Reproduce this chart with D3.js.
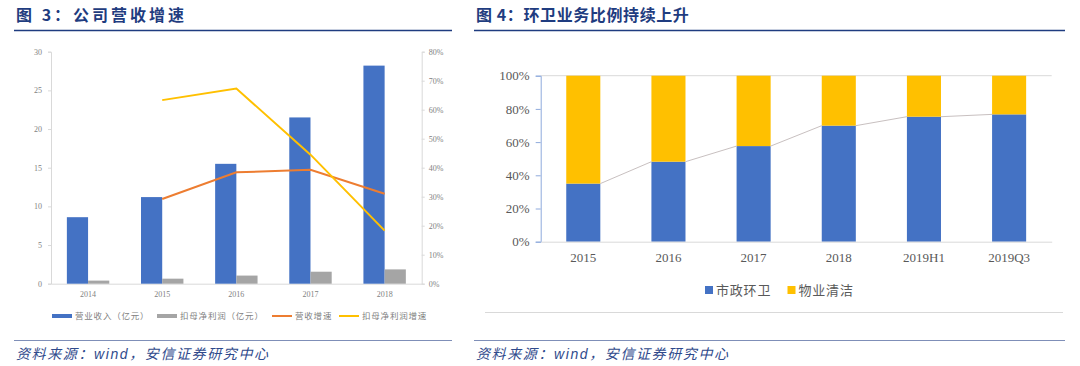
<!DOCTYPE html>
<html><head><meta charset="utf-8">
<script src="https://cdn.jsdelivr.net/npm/d3@7"></script>
<style>
html,body{margin:0;padding:0;background:#fff;}
svg{display:block;}
</style></head>
<body>
<svg id="c" width="1080" height="366"></svg>
<script>
// ---------- data ----------
const years = ["2014","2015","2016","2017","2018"];
const revenue = [8.6, 11.2, 15.5, 21.5, 28.2];          // 营业收入（亿元）
const netProfit = [0.4, 0.65, 1.05, 1.55, 1.85];        // 扣母净利润（亿元）
const revenueGrowth = [null, 29.2, 38.4, 39.3, 31.0];   // 营收增速 %
const profitGrowth = [null, 63.3, 67.3, 44.5, 18.3];    // 扣母净利润增速 %
const leftTicks = [0,5,10,15,20,25,30];
const rightTicks = [0,10,20,30,40,50,60,70,80];
const legend3 = ["营业收入（亿元）","扣母净利润（亿元）","营收增速","扣母净利润增速"];

const periods = ["2015","2016","2017","2018","2019H1","2019Q3"];
const municipal = [35.0, 48.2, 57.6, 69.9, 75.3, 76.7];  // 市政环卫 %
const property = [65.0, 51.8, 42.4, 30.1, 24.7, 23.3];   // 物业清洁 %
const pctTicks = [0,20,40,60,80,100];
const legend4 = ["市政环卫","物业清洁"];

// ---------- styles ----------
const BLUE="#4472C4", GREY="#A5A5A5", ORANGE="#ED7D31", YELLOW="#FFC000";
const NAVY="#1F3C80";
const SERIF="'Liberation Serif','DejaVu Serif',serif";
const CJK="'Noto Sans CJK SC','Noto Sans',sans-serif";

const svg = d3.select("#c");

// ---------- headers / footers ----------
function header(x, x1, text, ls){
  svg.append("text").attr("x",x).attr("y",21).attr("font-family",CJK)
    .attr("font-size",16).attr("font-weight","bold").attr("fill",NAVY)
    .attr("letter-spacing",ls).text(text);
  svg.append("line").attr("x1",x-2).attr("x2",x1).attr("y1",30.5).attr("y2",30.5)
    .attr("stroke",NAVY).attr("stroke-width",1.5);
}
function footer(x, x1){
  svg.append("line").attr("x1",x-2).attr("x2",x1).attr("y1",340.5).attr("y2",340.5)
    .attr("stroke","#7F8FB8").attr("stroke-width",1);
  const t = svg.append("text").attr("x",x).attr("y",359).attr("font-family",CJK)
    .attr("font-size",14).attr("font-style","italic").attr("fill","#2F4A8C")
    .attr("letter-spacing",1.6);
  t.append("tspan").text("资料来源：");
  t.append("tspan").attr("font-family","'Liberation Sans',Arial,sans-serif").text("wind");
  t.append("tspan").text("，安信证券研究中心");
}
header(16, 452, "图 3：公司营收增速", 3);
header(476, 1065, "图 4：环卫业务比例持续上升", 0.6);
footer(16, 452);
footer(476, 1065);

// ---------- chart 3 ----------
(function(){
  const L=51, R=421.7, T=51.7, B=283.7;
  const x = d3.scaleBand().domain(years).range([L,R]).paddingInner(0.428).paddingOuter(0.214);
  const yL = d3.scaleLinear().domain([0,30]).range([B,T]);
  const yR = d3.scaleLinear().domain([0,80]).range([B,T]);
  const g = svg.append("g");
  const bw = x.bandwidth()/2;

  // axes
  const axL = g.append("g").attr("transform",`translate(${L},0)`)
    .call(d3.axisLeft(yL).tickValues(leftTicks).tickSize(3).tickPadding(6));
  const axR = g.append("g").attr("transform",`translate(${R},0)`)
    .call(d3.axisRight(yR).tickValues(rightTicks).tickSize(3).tickPadding(4).tickFormat(d=>d+"%"));
  const axB = g.append("g").attr("transform",`translate(0,${B})`)
    .call(d3.axisBottom(x).tickSize(0).tickPadding(8));
  [axL,axR,axB].forEach(a=>{
    a.selectAll("path,line").attr("stroke","#D9D9D9");
    a.selectAll("text").attr("font-family",SERIF).attr("font-size",8).attr("fill","#7F7F7F");
  });

  g.selectAll(".rev").data(revenue).join("rect")
    .attr("x",(d,i)=>x(years[i])).attr("width",bw)
    .attr("y",d=>yL(d)).attr("height",d=>B-yL(d)).attr("fill",BLUE);
  g.selectAll(".np").data(netProfit).join("rect")
    .attr("x",(d,i)=>x(years[i])+bw).attr("width",bw)
    .attr("y",d=>yL(d)).attr("height",d=>B-yL(d)).attr("fill",GREY);

  const line = d3.line().defined(d=>d[1]!=null)
    .x(d=>x(d[0])+x.bandwidth()/2).y(d=>yR(d[1]));
  g.append("path").datum(years.map((y,i)=>[y,revenueGrowth[i]]))
    .attr("d",line).attr("fill","none").attr("stroke",ORANGE).attr("stroke-width",2);
  g.append("path").datum(years.map((y,i)=>[y,profitGrowth[i]]))
    .attr("d",line).attr("fill","none").attr("stroke",YELLOW).attr("stroke-width",2);

  // legend
  const lg = g.append("g");
  const items = [
    {x:52, c:BLUE, type:"rect"}, {x:157, c:GREY, type:"rect"},
    {x:272, c:ORANGE, type:"line"}, {x:339, c:YELLOW, type:"line"}];
  items.forEach((it,i)=>{
    if(it.type==="rect") lg.append("rect").attr("x",it.x).attr("y",314).attr("width",20).attr("height",4).attr("fill",it.c);
    else lg.append("line").attr("x1",it.x).attr("x2",it.x+20).attr("y1",316).attr("y2",316).attr("stroke",it.c).attr("stroke-width",2);
    lg.append("text").attr("x",it.x+23).attr("y",319).attr("font-family",CJK).attr("font-size",8.5)
      .attr("letter-spacing",0.8).attr("fill","#7F7F7F").text(legend3[i]);
  });
})();

// ---------- chart 4 ----------
(function(){
  const L=540.7, R=1051.7, T=75.7, B=241.7;
  const x = d3.scaleBand().domain(periods).range([L,R]).paddingInner(0.6).paddingOuter(0.3);
  const y = d3.scaleLinear().domain([0,100]).range([B,T]);
  const g = svg.append("g");

  // 100% line
  g.append("line").attr("x1",L).attr("x2",R).attr("y1",y(100)).attr("y2",y(100)).attr("stroke","#D9D9D9");

  // stacked bars
  g.selectAll(".m").data(municipal).join("rect")
    .attr("x",(d,i)=>x(periods[i])).attr("width",x.bandwidth())
    .attr("y",d=>y(d)).attr("height",d=>B-y(d)).attr("fill",BLUE);
  g.selectAll(".p").data(property).join("rect")
    .attr("x",(d,i)=>x(periods[i])).attr("width",x.bandwidth())
    .attr("y",(d,i)=>y(municipal[i]+d)).attr("height",(d,i)=>y(municipal[i])-y(municipal[i]+d)).attr("fill",YELLOW);

  // series lines between bars
  for(let i=0;i<periods.length-1;i++){
    g.append("line")
      .attr("x1",x(periods[i])+x.bandwidth()).attr("y1",y(municipal[i]))
      .attr("x2",x(periods[i+1])).attr("y2",y(municipal[i+1]))
      .attr("stroke","#C8C0C0").attr("stroke-width",1);
  }

  const axL = g.append("g").attr("transform",`translate(${L},0)`)
    .call(d3.axisLeft(y).tickValues(pctTicks).tickSize(5).tickPadding(6).tickFormat(d=>d+"%"));
  axL.selectAll("path,line").attr("stroke","#8FAADC");
  const axB = g.append("g").attr("transform",`translate(0,${B})`)
    .call(d3.axisBottom(x).tickSize(0).tickPadding(11));
  axB.selectAll("path").attr("stroke","#D9D9D9");
  [axL,axB].forEach(a=>a.selectAll("text").attr("font-family",SERIF).attr("font-size",13).attr("fill","#595959"));

  // legend
  const cols=[BLUE,YELLOW], xs=[705,787.5];
  legend4.forEach((t,i)=>{
    g.append("rect").attr("x",xs[i]).attr("y",286).attr("width",8).attr("height",8).attr("fill",cols[i]);
    g.append("text").attr("x",xs[i]+11).attr("y",295).attr("font-family",CJK).attr("font-size",13)
      .attr("letter-spacing",0.8).attr("fill","#595959").text(t);
  });

  // chart box bottom line
  g.append("line").attr("x1",485).attr("x2",1063).attr("y1",312.5).attr("y2",312.5).attr("stroke","#D9D9D9");
})();
</script>
</body></html>
